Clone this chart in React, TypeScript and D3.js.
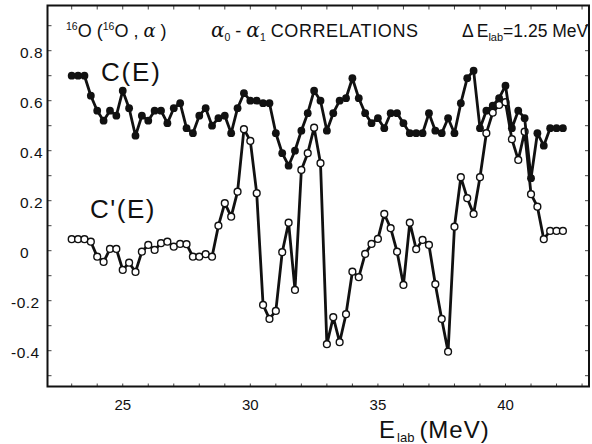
import React from "react";
import * as d3 from "d3";

const energies = [
  23.0, 23.25, 23.5, 23.75, 24.0, 24.25, 24.5, 24.75, 25.0, 25.25,
  25.5, 25.75, 26.0, 26.25, 26.5, 26.75, 27.0, 27.25, 27.5, 27.75,
  28.0, 28.25, 28.5, 28.75, 29.0, 29.25, 29.5, 29.75, 30.0, 30.25,
  30.5, 30.75, 31.0, 31.25, 31.5, 31.75, 32.0, 32.25, 32.5, 32.75,
  33.0, 33.25, 33.5, 33.75, 34.0, 34.25, 34.5, 34.75, 35.0, 35.25,
  35.5, 35.75, 36.0, 36.25, 36.5, 36.75, 37.0, 37.25, 37.5, 37.75,
  38.0, 38.25, 38.5, 38.75, 39.0, 39.25, 39.5, 39.75, 40.0, 40.25,
  40.5, 40.75, 41.0, 41.25, 41.5, 41.75, 42.0, 42.25,
];

const cValues = [
  0.70, 0.70, 0.70, 0.62, 0.56, 0.52, 0.56, 0.54, 0.64, 0.57,
  0.46, 0.54, 0.52, 0.56, 0.56, 0.51, 0.57, 0.59, 0.49, 0.47,
  0.54, 0.57, 0.50, 0.53, 0.54, 0.47, 0.57, 0.63, 0.60, 0.60,
  0.59, 0.59, 0.47, 0.39, 0.34, 0.40, 0.48, 0.55, 0.64, 0.60,
  0.48, 0.55, 0.60, 0.61, 0.69, 0.61, 0.55, 0.51, 0.53, 0.49,
  0.55, 0.55, 0.51, 0.47, 0.47, 0.47, 0.55, 0.48, 0.47, 0.53,
  0.47, 0.59, 0.69, 0.72, 0.49, 0.56, 0.58, 0.61, 0.66, 0.49,
  0.56, 0.53, 0.29, 0.47, 0.42, 0.49, 0.49, 0.49,
];

const cPrimeValues = [
  0.046, 0.046, 0.046, 0.036, -0.024, -0.045, 0.007, 0.007, -0.077, -0.048,
  -0.085, -0.004, 0.023, 0.003, 0.03, 0.036, 0.016, 0.027, 0.026, -0.024,
  -0.024, -0.014, -0.024, 0.1, 0.19, 0.136, 0.236, 0.486, 0.439, 0.23,
  -0.217, -0.273, -0.241, -0.006, 0.112, -0.157, 0.323, 0.39, 0.492, 0.35,
  -0.374, -0.266, -0.366, -0.254, -0.084, -0.106, -0.013, 0.027, 0.047, 0.147,
  0.09, -0.004, -0.137, 0.112, 0.006, 0.043, 0.023, -0.134, -0.273, -0.404,
  0.096, 0.294, 0.21, 0.147, 0.294, 0.47, 0.552, 0.583, 0.594, 0.446,
  0.363, 0.476, 0.226, 0.176, 0.046, 0.079, 0.079, 0.079,
];

const xTickLabels = [25, 30, 35, 40];
const yTickLabels = [0.8, 0.6, 0.4, 0.2, 0, -0.2, -0.4];

const FONT = "'Liberation Sans', Arial, sans-serif";
const GREEK = "'DejaVu Serif', serif";

export default function App() {
  const W = 592;
  const H = 444;
  const frame = { left: 47.5, right: 589, top: 5.5, bottom: 386.5 };

  const x = d3.scaleLinear().domain([23, 40]).range([71.7, 505.5]);
  const y = d3.scaleLinear().domain([-0.4, 0.8]).range([350.7, 50.7]);

  const cPts: [number, number][] = energies.map((e, i) => [e, cValues[i]]);
  const cpPts: [number, number][] = energies.map((e, i) => [e, cPrimeValues[i]]);

  const line = d3
    .line<[number, number]>()
    .x((d) => x(d[0]))
    .y((d) => y(d[1]));

  const xMin = x.invert(frame.left);
  const xMax = x.invert(frame.right);
  const yMin = y.invert(frame.bottom);
  const yMax = y.invert(frame.top);

  const xMinor = d3.range(Math.ceil(xMin), Math.floor(xMax) + 1);
  const yMinor = d3
    .range(Math.ceil(yMin * 10), Math.floor(yMax * 10) + 1)
    .map((v) => v / 10);

  const fmt = (v: number) => (v === 0 ? "0" : (v < 0 ? "-" : "") + Math.abs(v).toFixed(1));

  return (
    <svg
      width={W}
      height={H}
      viewBox={`0 0 ${W} ${H}`}
      style={{ position: "absolute", left: 0, top: 0, background: "#fff" }}
    >
      <rect x={0} y={0} width={W} height={H} fill="#fff" />

      {/* minor ticks */}
      {yMinor.map((v) => (
        <g key={"ym" + v} stroke="#444" strokeWidth={1}>
          <line x1={frame.left} x2={frame.left + 4} y1={y(v)} y2={y(v)} />
          <line x1={frame.right} x2={frame.right - 4} y1={y(v)} y2={y(v)} />
        </g>
      ))}
      {xMinor.map((v) => (
        <g key={"xm" + v} stroke="#444" strokeWidth={1}>
          <line x1={x(v)} x2={x(v)} y1={frame.top} y2={frame.top + 4} />
          <line x1={x(v)} x2={x(v)} y1={frame.bottom} y2={frame.bottom - 3} />
        </g>
      ))}

      {/* frame */}
      <rect
        x={frame.left}
        y={frame.top}
        width={frame.right - frame.left}
        height={frame.bottom - frame.top}
        fill="none"
        stroke="#111"
        strokeWidth={2}
      />

      {/* y tick labels */}
      {yTickLabels.map((v) => (
        <text
          key={"yl" + v}
          x={v < 0 ? 11 : 20}
          y={y(v) + 7}
          fontFamily={FONT}
          fontSize={15.5}
          fill="#111"
          letterSpacing={0.5}
        >
          {fmt(v)}
        </text>
      ))}

      {/* x tick labels */}
      {xTickLabels.map((v) => (
        <text
          key={"xl" + v}
          x={x(v)}
          y={410}
          textAnchor="middle"
          fontFamily={FONT}
          fontSize={15}
          fill="#111"
        >
          {v}
        </text>
      ))}

      {/* x axis title */}
      <text x={379} y={438} fontFamily={FONT} fontSize={24} fill="#111">
        E
        <tspan fontSize={13} dy={4} dx={2}>lab</tspan>
        <tspan dy={-4} dx={5} letterSpacing={1}>(MeV)</tspan>
      </text>

      {/* header */}
      <text x={66} y={37} fontFamily={FONT} fontSize={18} fill="#111">
        <tspan fontSize={10.5} dy={-7}>16</tspan>
        <tspan dy={7}>O (</tspan>
        <tspan fontSize={10.5} dy={-7}>16</tspan>
        <tspan dy={7}>O , </tspan>
        <tspan fontStyle="italic" fontFamily={GREEK}>α</tspan>
        <tspan> )</tspan>
      </text>
      <text x={211} y={37} fontFamily={FONT} fontSize={18} fill="#111">
        <tspan fontStyle="italic" fontFamily={GREEK} fontSize={20}>α</tspan>
        <tspan fontSize={10.5} dy={4}>0</tspan>
        <tspan dy={-4}> - </tspan>
        <tspan fontStyle="italic" fontFamily={GREEK} fontSize={20}>α</tspan>
        <tspan fontSize={10.5} dy={4}>1</tspan>
        <tspan dy={-4} dx={5} letterSpacing={0.6}>CORRELATIONS</tspan>
      </text>
      <text x={462} y={37} fontFamily={FONT} fontSize={17.5} fill="#111">
        Δ
        <tspan dx={3}>E</tspan>
        <tspan fontSize={11} dy={4}>lab</tspan>
        <tspan dy={-4}>=1.25 MeV</tspan>
      </text>

      {/* series labels */}
      <text x={101} y={81} fontFamily={FONT} fontSize={26} fill="#111" letterSpacing={1.8}>
        C(E)
      </text>
      <text x={90} y={218} fontFamily={FONT} fontSize={26} fill="#111" letterSpacing={1.5}>
        C'(E)
      </text>

      {/* C'(E) series */}
      <path d={line(cpPts) || ""} fill="none" stroke="#111" strokeWidth={2.8} strokeLinejoin="round" />
      {cpPts.map((d, i) => (
        <circle
          key={"cp" + i}
          cx={x(d[0])}
          cy={y(d[1])}
          r={3.4}
          fill="#fff"
          stroke="#111"
          strokeWidth={1.4}
        />
      ))}

      {/* C(E) series */}
      <path d={line(cPts) || ""} fill="none" stroke="#111" strokeWidth={2.8} strokeLinejoin="round" />
      {cPts.map((d, i) => (
        <circle key={"c" + i} cx={x(d[0])} cy={y(d[1])} r={3.9} fill="#111" />
      ))}
    </svg>
  );
}
